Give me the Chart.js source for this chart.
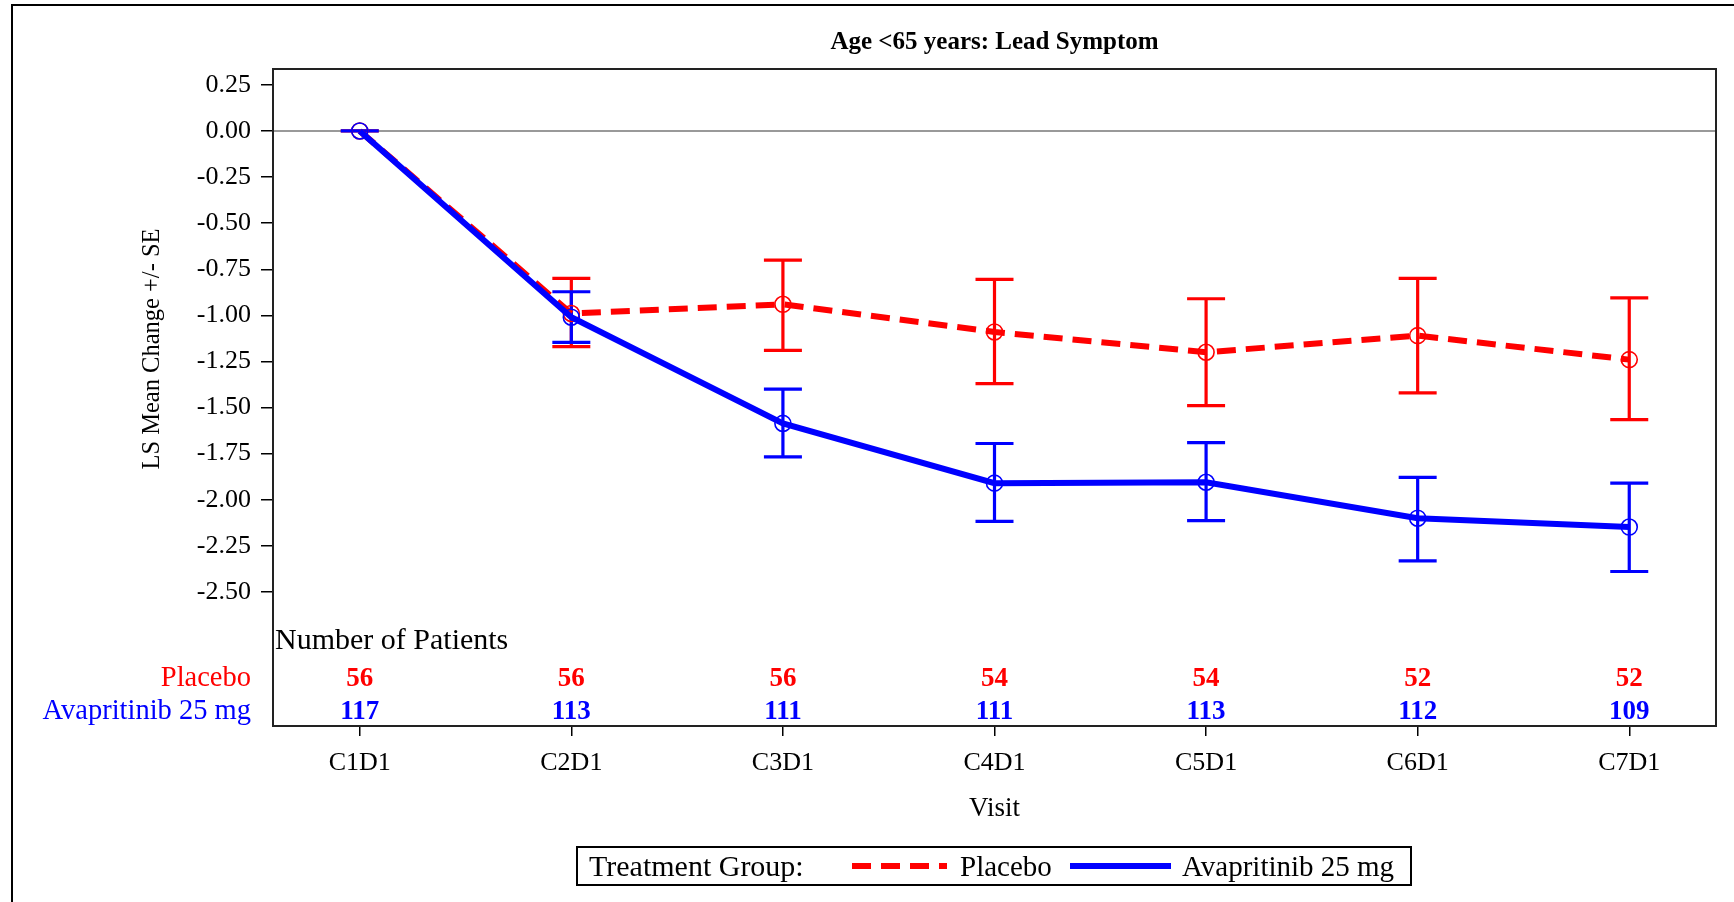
<!DOCTYPE html>
<html>
<head>
<meta charset="utf-8">
<script src="https://cdn.jsdelivr.net/npm/chart.js@4/dist/chart.umd.min.js"></script>
<style>
  html, body { margin: 0; padding: 0; background: #fff; }
  canvas { display: block; }
</style>
</head>
<body>
<canvas id="myChart" width="1734" height="902"></canvas>
<script>
const chartTitle = 'Age <65 years: Lead Symptom';
const yTitle = 'LS Mean Change +/- SE';
const xTitle = 'Visit';
const visits = ['C1D1', 'C2D1', 'C3D1', 'C4D1', 'C5D1', 'C6D1', 'C7D1'];
const yTicks = [0.25, 0, -0.25, -0.5, -0.75, -1, -1.25, -1.5, -1.75, -2, -2.25, -2.5];
const groupNames = ['Placebo', 'Avapritinib 25 mg'];

// LS mean and +/- SE limits
const placeboMean = [0, -0.99, -0.94, -1.09, -1.20, -1.11, -1.24];
const placeboUpper = [0, -0.80, -0.70, -0.805, -0.91, -0.80, -0.905];
const placeboLower = [0, -1.17, -1.19, -1.37, -1.49, -1.42, -1.565];
const avaMean = [0, -1.01, -1.586, -1.91, -1.905, -2.10, -2.148];
const avaUpper = [0, -0.872, -1.40, -1.695, -1.69, -1.879, -1.91];
const avaLower = [0, -1.147, -1.768, -2.117, -2.113, -2.331, -2.389];

// number of patients per visit
const placeboN = [56, 56, 56, 54, 54, 52, 52];
const avaN = [117, 113, 111, 111, 113, 112, 109];

const RED = '#ff0000';
const BLUE = '#0000ff';
const serif = "'Liberation Serif', 'Times New Roman', serif";

Chart.defaults.font.family = serif;
Chart.defaults.color = '#000';

function toPoints(values) {
    return values.map((v, i) => ({ x: i + 1, y: v }));
}

const errorBarPlugin = {
    id: 'errorBars',
    beforeDatasetsDraw(chart) {
        const { ctx, chartArea: a, scales: { x, y } } = chart;
        ctx.save();
        // reference line at zero
        ctx.strokeStyle = '#999';
        ctx.lineWidth = 2;
        ctx.beginPath();
        ctx.moveTo(a.left, y.getPixelForValue(0));
        ctx.lineTo(a.right, y.getPixelForValue(0));
        ctx.stroke();

        // draw red first so blue sits on top
        const order = chart.data.datasets.map((d, i) => i).sort((p, q) => chart.data.datasets[q].order - chart.data.datasets[p].order);
        order.forEach(di => {
            const ds = chart.data.datasets[di];
            ctx.strokeStyle = ds.borderColor;
            ctx.lineWidth = 3.2;
            ds.errLow.forEach((lo, i) => {
                const px = x.getPixelForValue(i + 1);
                const yl = y.getPixelForValue(lo);
                const yh = y.getPixelForValue(ds.errHigh[i]);
                ctx.beginPath();
                ctx.moveTo(px, yl);
                ctx.lineTo(px, yh);
                ctx.moveTo(px - 19, yl);
                ctx.lineTo(px + 19, yl);
                ctx.moveTo(px - 19, yh);
                ctx.lineTo(px + 19, yh);
                ctx.stroke();
            });
        });
        ctx.restore();
    }
};

const decorPlugin = {
    id: 'decor',
    afterDraw(chart) {
        const { ctx, chartArea: a, scales: { x } } = chart;
        ctx.save();

        // outer frame (only left and top are inside the picture)
        ctx.strokeStyle = '#000';
        ctx.lineWidth = 2;
        ctx.beginPath();
        ctx.moveTo(12, 902);
        ctx.lineTo(12, 5);
        ctx.lineTo(1734, 5);
        ctx.stroke();

        // plot frame
        ctx.strokeStyle = '#222';
        ctx.strokeRect(a.left, a.top, a.right - a.left, a.bottom - a.top);

        ctx.fillStyle = '#000';
        ctx.textBaseline = 'middle';

        // title
        ctx.font = 'bold 25px ' + serif;
        ctx.textAlign = 'center';
        ctx.fillText(chartTitle, (a.left + a.right) / 2, 43);

        // y axis title
        ctx.save();
        ctx.translate(153, 349);
        ctx.rotate(-Math.PI / 2);
        ctx.font = '24.5px ' + serif;
        ctx.fillText(yTitle, 0, 0);
        ctx.restore();

        // patient counts table
        ctx.font = '30px ' + serif;
        ctx.textAlign = 'left';
        ctx.fillText('Number of Patients', a.left + 2, a.bottom - 85);

        const rows = [
            { name: groupNames[0], counts: placeboN, color: RED, yOff: 47 },
            { name: groupNames[1], counts: avaN, color: BLUE, yOff: 14 }
        ];
        rows.forEach(r => {
            const py = a.bottom - r.yOff;
            ctx.fillStyle = r.color;
            ctx.font = '28.5px ' + serif;
            ctx.textAlign = 'right';
            ctx.fillText(r.name, a.left - 22, py);
            ctx.font = 'bold 27px ' + serif;
            ctx.textAlign = 'center';
            r.counts.forEach((n, i) => {
                ctx.fillText(String(n), x.getPixelForValue(i + 1), py);
            });
        });

        // legend
        const lx = 577, ly = 847, lw = 834, lh = 38;
        const cy = ly + lh / 2 + 2;
        ctx.strokeStyle = '#000';
        ctx.lineWidth = 2;
        ctx.strokeRect(lx, ly, lw, lh);
        ctx.fillStyle = '#000';
        ctx.font = '30px ' + serif;
        ctx.textAlign = 'left';
        ctx.fillText('Treatment Group:', lx + 12, cy);

        ctx.font = '29px ' + serif;
        const items = [
            { ds: chart.data.datasets[1], x0: 852, x1: 947, tx: 960 },
            { ds: chart.data.datasets[0], x0: 1070, x1: 1171, tx: 1182 }
        ];
        items.forEach(it => {
            ctx.save();
            ctx.strokeStyle = it.ds.borderColor;
            ctx.lineWidth = it.ds.borderWidth;
            ctx.setLineDash(it.ds.borderDash || []);
            ctx.beginPath();
            ctx.moveTo(it.x0, cy - 2);
            ctx.lineTo(it.x1, cy - 2);
            ctx.stroke();
            ctx.restore();
            ctx.fillStyle = '#000';
            ctx.fillText(it.ds.label, it.tx, cy);
        });

        ctx.restore();
    }
};

const ctx = document.getElementById('myChart').getContext('2d');
const myChart = new Chart(ctx, {
    type: 'line',
    data: {
        datasets: [
            {
                label: groupNames[1],
                data: toPoints(avaMean),
                errLow: avaLower,
                errHigh: avaUpper,
                borderColor: BLUE,
                borderWidth: 6,
                pointStyle: 'circle',
                pointRadius: 8,
                pointBorderWidth: 1.6,
                pointBorderColor: BLUE,
                pointBackgroundColor: 'rgba(0,0,0,0)',
                order: 0
            },
            {
                label: groupNames[0],
                data: toPoints(placeboMean),
                errLow: placeboLower,
                errHigh: placeboUpper,
                borderColor: RED,
                borderWidth: 6,
                borderDash: [19, 10],
                pointStyle: 'circle',
                pointRadius: 8,
                pointBorderWidth: 1.6,
                pointBorderColor: RED,
                pointBackgroundColor: 'rgba(0,0,0,0)',
                order: 1
            }
        ]
    },
    options: {
        responsive: false,
        animation: false,
        devicePixelRatio: 1,
        layout: { padding: { top: 69, right: 18, bottom: 0, left: 0 } },
        plugins: {
            legend: { display: false },
            title: { display: false },
            tooltip: { enabled: false }
        },
        scales: {
            x: {
                type: 'linear',
                min: 0.59,
                max: 7.41,
                afterBuildTicks: scale => {
                    scale.ticks = visits.map((v, i) => ({ value: i + 1 }));
                },
                afterFit: scale => { scale.height = 176; },
                ticks: {
                    autoSkip: false,
                    maxRotation: 0,
                    padding: 12,
                    font: { size: 26 },
                    callback: value => visits[value - 1]
                },
                grid: { display: true, drawOnChartArea: false, drawTicks: true, tickLength: 10, color: '#000', lineWidth: 1.5 },
                border: { display: false },
                title: { display: true, text: xTitle, font: { size: 27 }, padding: { top: 0, bottom: 77 } }
            },
            y: {
                min: -3.227,
                max: 0.336,
                afterBuildTicks: scale => {
                    scale.ticks = yTicks.map(v => ({ value: v }));
                },
                afterFit: scale => { scale.width = 273; },
                ticks: {
                    padding: 10,
                    font: { size: 26 },
                    callback: value => value.toFixed(2)
                },
                grid: { display: true, drawOnChartArea: false, drawTicks: true, tickLength: 12, color: '#000', lineWidth: 1.5 },
                border: { display: false }
            }
        }
    },
    plugins: [errorBarPlugin, decorPlugin]
});
</script>
</body>
</html>
